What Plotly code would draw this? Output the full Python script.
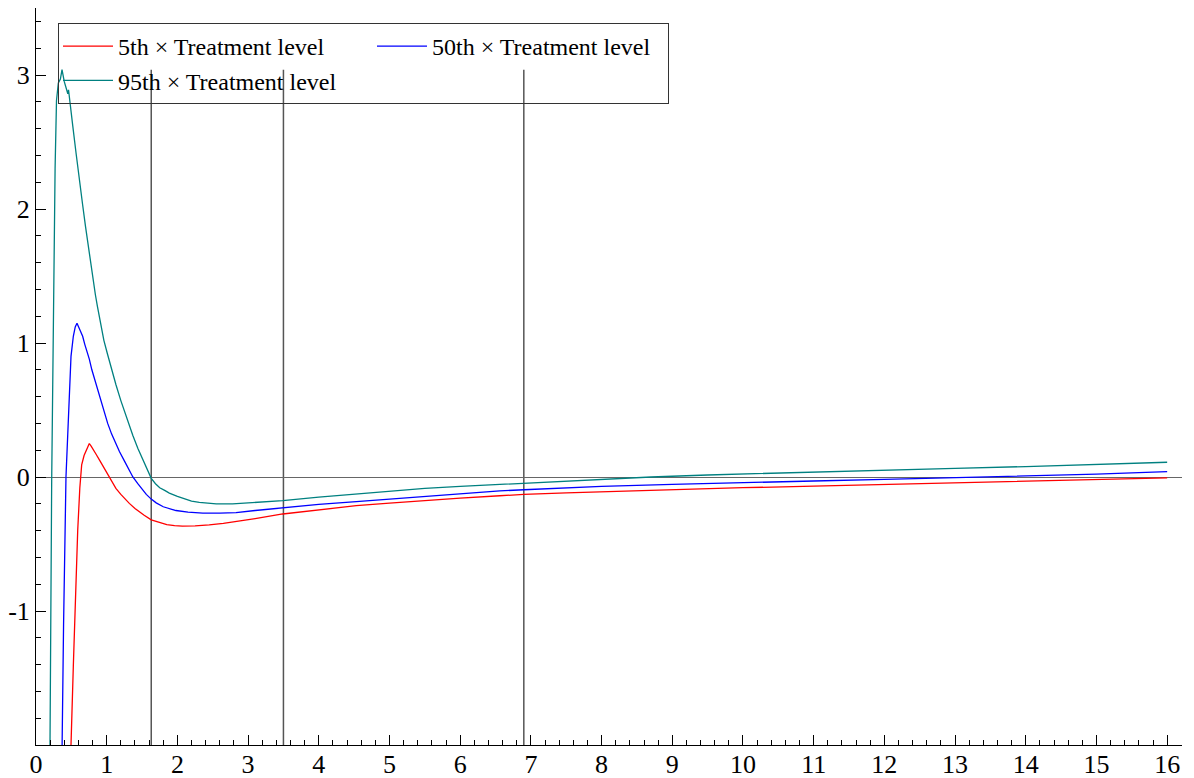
import plotly.graph_objects as go

# ---- data ----
x_p5 = [0.49, 0.495, 0.528, 0.566, 0.59, 0.62, 0.646, 0.68, 0.72, 0.754, 0.78, 0.80, 0.85, 0.905, 0.96,
        1.014, 1.07, 1.13, 1.2, 1.26, 1.32, 1.4, 1.45, 1.53, 1.63, 1.74, 1.85, 1.96, 2.07, 2.25, 2.45,
        2.65, 2.83, 3.1, 3.49, 4.0, 4.53, 5.0, 5.5, 6.0, 6.56, 6.9, 7.5, 8.0, 9.0, 10.0, 11.0, 12.0,
        13.0, 14.0, 15.0, 16.0]
y_p5 = [-2.4, -2.0, -1.41, -0.77, -0.40, -0.08, 0.09, 0.16, 0.21, 0.25, 0.23, 0.21, 0.17, 0.12, 0.07,
        0.025, -0.03, -0.085, -0.13, -0.165, -0.197, -0.235, -0.255, -0.285, -0.32, -0.34, -0.355, -0.363,
        -0.366, -0.364, -0.358, -0.346, -0.333, -0.31, -0.276, -0.243, -0.214, -0.195, -0.175, -0.158,
        -0.14, -0.13, -0.118, -0.11, -0.095, -0.08, -0.068, -0.055, -0.042, -0.03, -0.018, -0.007]

x_p50 = [0.36, 0.368, 0.39, 0.424, 0.448, 0.471, 0.495, 0.528, 0.555, 0.58, 0.60, 0.636, 0.66, 0.69,
         0.72, 0.754, 0.79, 0.83, 0.87, 0.92, 0.97, 1.014, 1.07, 1.13, 1.18, 1.25, 1.31, 1.37, 1.44,
         1.5, 1.56, 1.63, 1.7, 1.8, 1.9, 1.98, 2.15, 2.36, 2.6, 2.83, 3.1, 3.49, 4.0, 4.53, 5.0, 5.5,
         6.0, 6.56, 6.9, 7.5, 8.0, 9.0, 10.0, 11.0, 12.0, 13.0, 14.0, 15.0, 16.0]
y_p50 = [-2.4, -2.0, -1.1, 0.0, 0.33, 0.70, 0.90, 1.05, 1.12, 1.147, 1.12, 1.085, 1.05, 0.99,
         0.94, 0.88, 0.80, 0.73, 0.65, 0.56, 0.47, 0.40, 0.32, 0.245, 0.19, 0.12, 0.06, 0.0, -0.05,
         -0.09, -0.13, -0.165, -0.193, -0.222, -0.24, -0.25, -0.262, -0.27, -0.27, -0.266, -0.25,
         -0.229, -0.205, -0.184, -0.165, -0.145, -0.125, -0.104, -0.095, -0.08, -0.07, -0.055, -0.04,
         -0.03, -0.018, -0.005, 0.008, 0.022, 0.04]

x_p95 = [0.19, 0.198, 0.222, 0.245, 0.27, 0.29, 0.316, 0.345, 0.368, 0.40, 0.43, 0.45, 0.46, 0.47,
         0.52, 0.566, 0.61, 0.66, 0.70, 0.75, 0.80, 0.84, 0.87, 0.90, 0.93, 0.96, 1.01, 1.06, 1.13,
         1.2, 1.28, 1.37, 1.44, 1.5, 1.56, 1.63, 1.69, 1.75, 1.82, 1.886, 2.0, 2.1, 2.2, 2.31, 2.43,
         2.55, 2.78, 3.1, 3.49, 4.0, 4.53, 5.0, 5.5, 6.0, 6.56, 6.9, 7.5, 8.16, 8.7, 9.5, 10.48, 11.2,
         12.0, 13.0, 14.0, 15.0, 16.0]
y_p95 = [-2.4, -2.0, -0.02, 1.32, 2.3, 2.81, 2.94, 2.97, 3.04, 2.95, 2.90, 2.86, 2.89, 2.84,
         2.62, 2.42, 2.22, 2.03, 1.87, 1.68, 1.50, 1.36, 1.27, 1.18, 1.10, 1.02, 0.92, 0.82, 0.69,
         0.57, 0.44, 0.31, 0.215, 0.14, 0.07, -0.01, -0.05, -0.08, -0.10, -0.12, -0.145, -0.165, -0.18,
         -0.19, -0.197, -0.20, -0.20, -0.19, -0.177, -0.15, -0.127, -0.105, -0.085, -0.07, -0.055,
         -0.047, -0.03, -0.01, 0.0, 0.015, 0.03, 0.042, 0.052, 0.065, 0.078, 0.093, 0.11]

series_names = ["5th \u00d7 Treatment level", "50th \u00d7 Treatment level", "95th \u00d7 Treatment level"]
series_colors = ["#ff0000", "#0000ff", "#008080"]
legend_groups = ["a", "b", "a"]
legend_widths = [249, 231, 249]

vline_x = [1.63, 3.5, 6.9]
vline_y_bottom = -2.0
vline_y_top = 3.04

x_ticks = list(range(0, 17))
y_ticks = [-1, 0, 1, 2, 3]
y_tick_labels = ["-1", "0", "1", "2", "3"]

FONT = "Liberation Serif"

# the page body adds an 8px offset, so the figure is drawn 8px smaller
PAGE_OFFSET = 8
FIG_W, FIG_H = 1194 - PAGE_OFFSET, 778 - PAGE_OFFSET
M_L, M_R, M_T, M_B = 36 - PAGE_OFFSET, 12, 0, 33
PLOT_W = FIG_W - M_L - M_R
PLOT_H = FIG_H - M_T - M_B

fig = go.Figure()
for xs, ys, name, color, grp, lw in zip([x_p5, x_p50, x_p95], [y_p5, y_p50, y_p95],
                                        series_names, series_colors, legend_groups, legend_widths):
    fig.add_trace(go.Scatter(x=xs, y=ys, mode="lines", name=name, legendgroup=grp,
                             legendwidth=lw, line=dict(color=color, width=1.3)))

for vx in vline_x:
    fig.add_shape(type="line", xref="x", yref="y", x0=vx, x1=vx, y0=vline_y_bottom, y1=vline_y_top,
                  line=dict(color="#555555", width=1.5), layer="below")

fig.update_layout(
    width=FIG_W, height=FIG_H,
    margin=dict(l=M_L, r=M_R, t=M_T, b=M_B, autoexpand=False),
    paper_bgcolor="white", plot_bgcolor="white",
    font=dict(family=FONT, size=26, color="black"),
    showlegend=True,
    legend=dict(
        x=(58 - 36) / PLOT_W, y=1 - (23 - 8) / PLOT_H, xanchor="left", yanchor="top",
        orientation="h", traceorder="grouped",
        bgcolor="rgba(0,0,0,0)", bordercolor="#333333", borderwidth=1,
        font=dict(family=FONT, size=24, color="black"),
        itemwidth=50, tracegroupgap=0,
    ),
    xaxis=dict(
        range=[0, 16.21], showgrid=False, zeroline=False, automargin=False,
        showline=True, linecolor="black", linewidth=1,
        tickmode="array", tickvals=x_ticks, ticktext=[str(v) for v in x_ticks],
        ticks="inside", ticklen=10, tickcolor="black", tickwidth=1,
        ticklabelstandoff=-4,
        minor=dict(ticks="inside", ticklen=5, tickcolor="black", dtick=0.2, tick0=0, showgrid=False),
        tickfont=dict(family=FONT, size=26, color="black"),
    ),
    yaxis=dict(
        range=[-2.0, 3.5], showgrid=False, automargin=False,
        zeroline=True, zerolinecolor="#666666", zerolinewidth=1,
        showline=True, linecolor="black", linewidth=1,
        tickmode="array", tickvals=y_ticks, ticktext=y_tick_labels,
        ticks="inside", ticklen=10, tickcolor="black", tickwidth=1,
        minor=dict(ticks="inside", ticklen=5, tickcolor="black", dtick=0.2, tick0=0, showgrid=False),
        tickfont=dict(family=FONT, size=26, color="black"),
    ),
)

fig.write_html("out.html")
